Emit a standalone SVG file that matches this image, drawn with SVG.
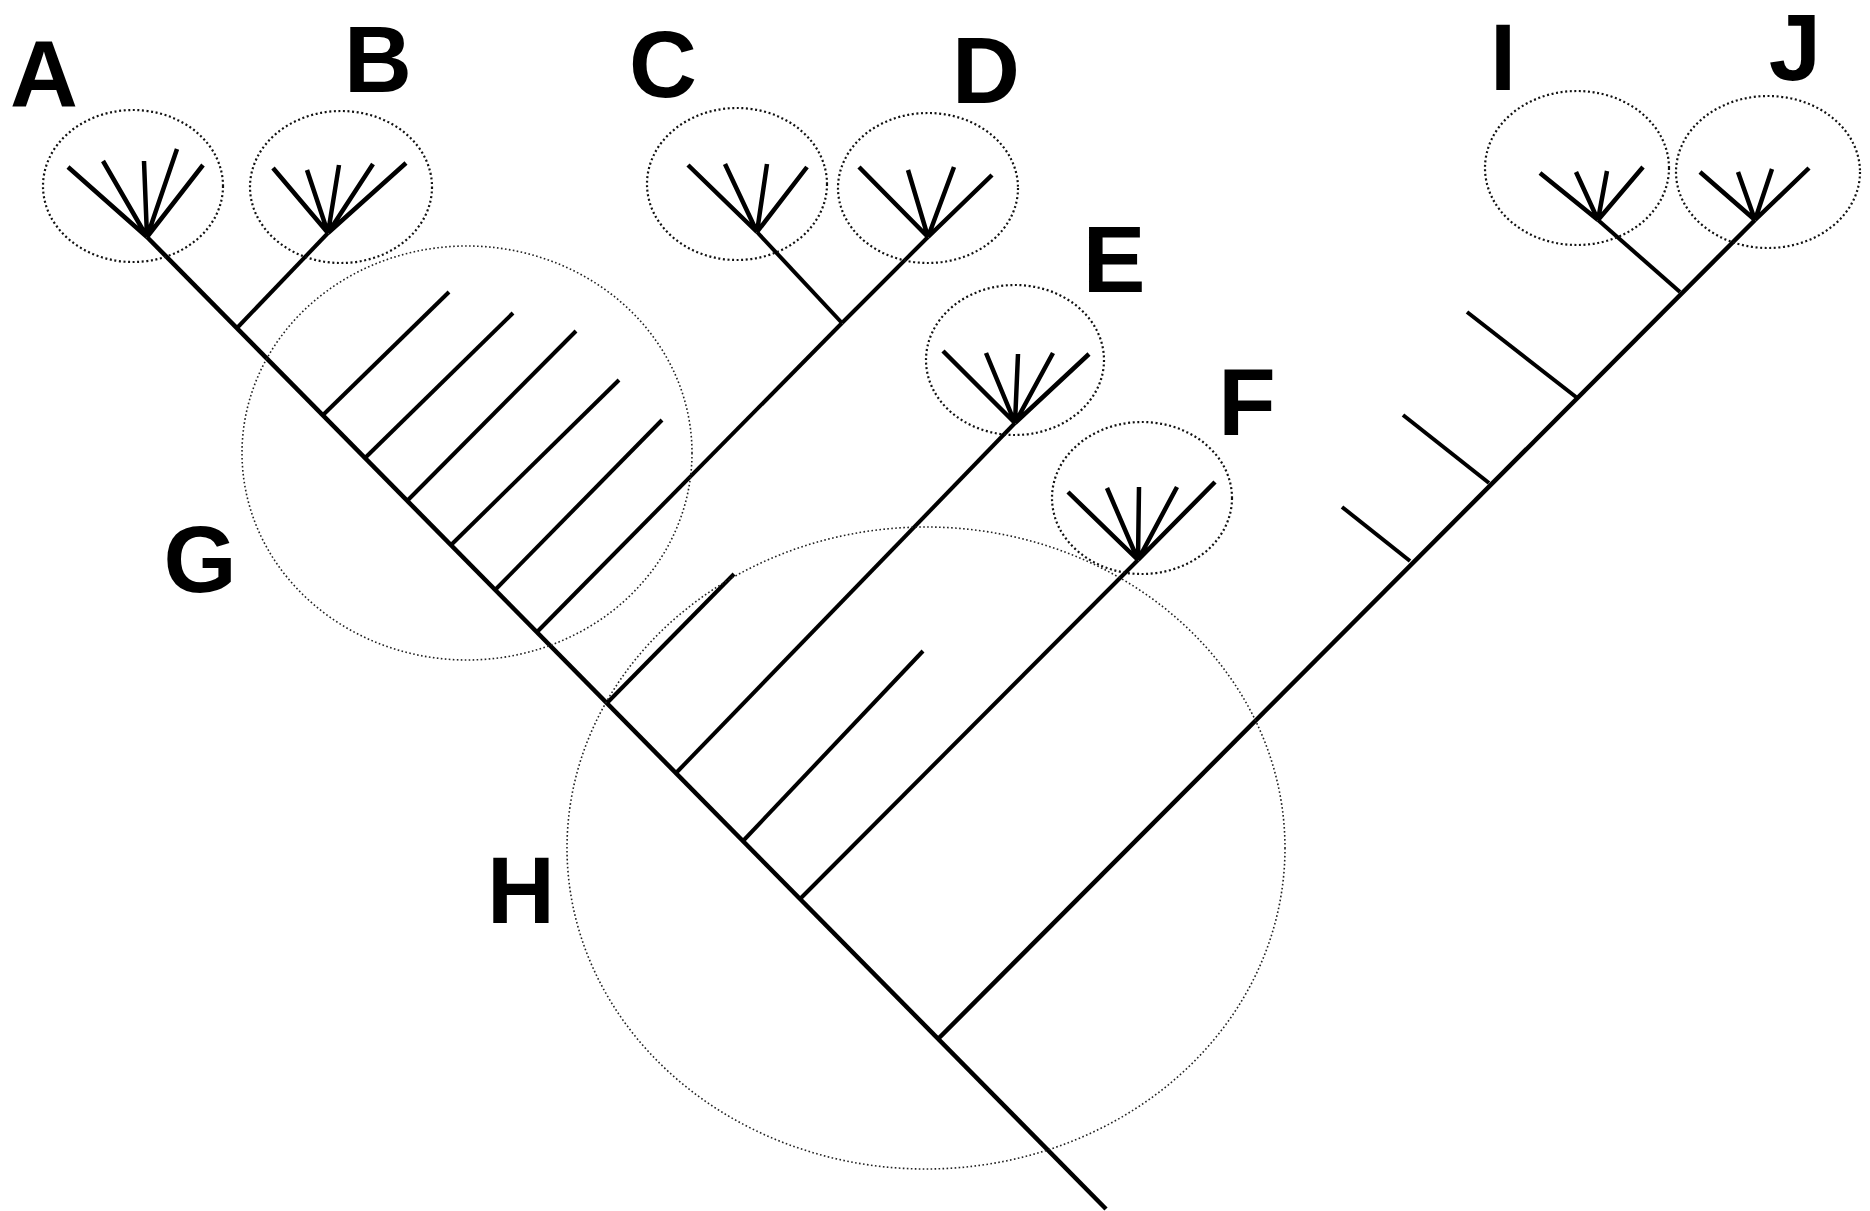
<svg xmlns="http://www.w3.org/2000/svg" width="1870" height="1211" viewBox="0 0 1870 1211">
<style>
.lbl{font-family:"Liberation Sans",Arial,sans-serif;font-weight:bold;font-size:94px;fill:#000;text-anchor:middle}
.br{stroke:#000;stroke-width:4;stroke-linecap:butt;fill:none}
.tr{stroke:#000;stroke-width:4.5;fill:none}
.fan{stroke:#000;stroke-width:4.5;stroke-linecap:butt;fill:none}
.sc{fill:none;stroke:#111;stroke-width:2.2;stroke-dasharray:2 2.6}
.bc{fill:none;stroke:#222;stroke-width:1.6;stroke-dasharray:1.6 2.4}
</style>
<rect width="1870" height="1211" fill="#fff"/>
<g id="connectors">
  <line class="tr" x1="147" y1="237" x2="1106" y2="1209"/>
  <line class="br" x1="237" y1="328" x2="328" y2="233"/>
  <line class="br" x1="323" y1="415" x2="449" y2="292"/>
  <line class="br" x1="365" y1="458" x2="513" y2="313"/>
  <line class="br" x1="407" y1="501" x2="576" y2="331"/>
  <line class="br" x1="451" y1="545" x2="619" y2="380"/>
  <line class="br" x1="495" y1="590" x2="662" y2="420"/>
  <line class="br" x1="537" y1="632" x2="842" y2="323"/>
  <line class="br" x1="842" y1="323" x2="757" y2="232"/>
  <line class="br" x1="842" y1="323" x2="928" y2="237"/>
  <line class="br" x1="607" y1="703" x2="734" y2="574"/>
  <line class="br" x1="676" y1="773" x2="1015" y2="423"/>
  <line class="br" x1="743" y1="841" x2="923" y2="651"/>
  <line class="br" x1="800" y1="899" x2="1138" y2="560"/>
  <line class="tr" x1="938" y1="1039" x2="1755" y2="220"/>
  <line class="br" x1="1680" y1="292" x2="1598" y2="220"/>
  <line class="br" x1="1410" y1="561" x2="1342" y2="507"/>
  <line class="br" x1="1489" y1="483" x2="1403" y2="415"/>
  <line class="br" x1="1576" y1="397" x2="1467" y2="312"/>
</g>
<g id="A">
  <ellipse class="sc" cx="133" cy="186" rx="90" ry="76"/>
  <path class="fan" d="M147 237L68 167M147 237L103 161M147 237L144 161M147 237L177 149M147 237L203 165"/>
  <text class="lbl" x="44" y="107">A</text>
</g>
<g id="B">
  <ellipse class="sc" cx="341" cy="187" rx="91" ry="76"/>
  <path class="fan" d="M328 233L273 168M328 233L307 170M328 233L339 165M328 233L373 164M328 233L406 163"/>
  <text class="lbl" x="378" y="92">B</text>
</g>
<g id="C">
  <ellipse class="sc" cx="737" cy="184" rx="90" ry="76"/>
  <path class="fan" d="M757 232L688 165M757 232L725 164M757 232L767 164M757 232L807 167"/>
  <text class="lbl" x="663" y="97">C</text>
</g>
<g id="D">
  <ellipse class="sc" cx="928" cy="188" rx="90" ry="75"/>
  <path class="fan" d="M928 237L859 167M928 237L908 170M928 237L954 167M928 237L992 175"/>
  <text class="lbl" x="986" y="103">D</text>
</g>
<g id="E">
  <ellipse class="sc" cx="1015" cy="360" rx="89" ry="75"/>
  <path class="fan" d="M1015 423L943 351M1015 423L986 353M1015 423L1018 354M1015 423L1053 353M1015 423L1089 354"/>
  <text class="lbl" x="1114" y="292">E</text>
</g>
<g id="F">
  <ellipse class="sc" cx="1142" cy="498" rx="90" ry="76"/>
  <path class="fan" d="M1138 560L1068 492M1138 560L1107 488M1138 560L1139 487M1138 560L1177 487M1138 560L1215 482"/>
  <text class="lbl" x="1247" y="435">F</text>
</g>
<g id="G">
  <ellipse class="bc" cx="467" cy="453" rx="225" ry="207"/>
  <text class="lbl" x="200" y="592">G</text>
</g>
<g id="H">
  <ellipse class="bc" cx="926" cy="848" rx="359" ry="321"/>
  <text class="lbl" x="521" y="923">H</text>
</g>
<g id="I">
  <ellipse class="sc" cx="1577" cy="168" rx="92" ry="77"/>
  <path class="fan" d="M1598 220L1540 173M1598 220L1576 172M1598 220L1607 171M1598 220L1643 167"/>
  <text class="lbl" x="1503" y="90">I</text>
</g>
<g id="J">
  <ellipse class="sc" cx="1768" cy="172" rx="92" ry="76"/>
  <path class="fan" d="M1755 220L1700 172M1755 220L1738 172M1755 220L1772 169M1755 220L1809 168"/>
  <text class="lbl" x="1795" y="80">J</text>
</g>
</svg>
